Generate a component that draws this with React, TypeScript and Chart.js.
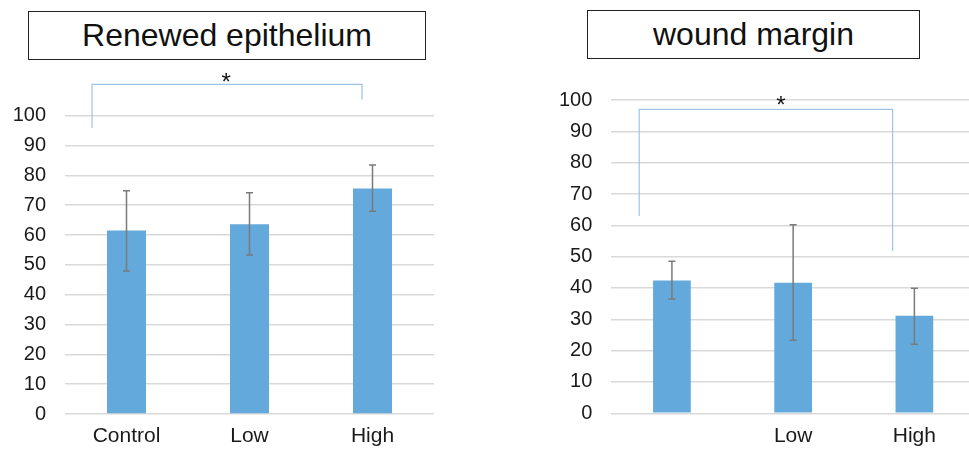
import React, { useEffect, useRef } from "react";
import { Chart, registerables } from "chart.js";

Chart.register(...registerables);

const FONT = "'Liberation Sans', Arial, Helvetica, sans-serif";

// ---- Data ----
const LEFT_TITLE = "Renewed epithelium";
const LEFT_CATEGORIES = ["Control", "Low", "High"];
const LEFT_MEANS = [61.5, 63.6, 75.6];
const LEFT_ERR_HIGH = [74.8, 74.2, 83.5];
const LEFT_ERR_LOW = [47.9, 53.3, 68.0];

const RIGHT_TITLE = "wound margin";
const RIGHT_CATEGORIES = ["", "Low", "High"];
const RIGHT_MEANS = [42.4, 41.7, 31.1];
const RIGHT_ERR_HIGH = [48.5, 60.2, 39.9];
const RIGHT_ERR_LOW = [36.5, 23.3, 22.0];

const Y_MIN = 0;
const Y_MAX = 100;
const Y_STEP = 10;

// significance brackets (category positions, values)
const LEFT_BRACKET = { from: -0.28, to: 1.915, y: 110.5, leftEnd: 95.9, rightEnd: 105.4, starX: 0.81, starY: 112.9 };
const RIGHT_BRACKET = { from: -0.27, to: 1.82, y: 97.0, leftEnd: 63.0, rightEnd: 51.8, starX: 0.9, starY: 99.7 };

type Bracket = typeof LEFT_BRACKET;

function makeOverlay(hi: number[], lo: number[], br: Bracket) {
  return {
    id: "overlay",
    afterDatasetsDraw(chart: any) {
      const ctx = chart.ctx;
      const meta = chart.getDatasetMeta(0);
      const ys = chart.scales.y;
      const xs = chart.scales.x;
      ctx.save();
      ctx.strokeStyle = "#7a7a7a";
      ctx.lineWidth = 1.5;
      meta.data.forEach((bar: any, i: number) => {
        const cx = bar.x;
        const yt = ys.getPixelForValue(hi[i]);
        const yb = ys.getPixelForValue(lo[i]);
        ctx.beginPath();
        ctx.moveTo(cx, yt);
        ctx.lineTo(cx, yb);
        ctx.moveTo(cx - 3.5, yt);
        ctx.lineTo(cx + 3.5, yt);
        ctx.moveTo(cx - 3.5, yb);
        ctx.lineTo(cx + 3.5, yb);
        ctx.stroke();
      });
      const x0 = xs.getPixelForValue(0);
      const step = xs.getPixelForValue(1) - x0;
      const bx1 = x0 + br.from * step;
      const bx2 = x0 + br.to * step;
      const by = ys.getPixelForValue(br.y);
      ctx.strokeStyle = "#9dc3e6";
      ctx.lineWidth = 1.2;
      ctx.beginPath();
      ctx.moveTo(bx1, ys.getPixelForValue(br.leftEnd));
      ctx.lineTo(bx1, by);
      ctx.lineTo(bx2, by);
      ctx.lineTo(bx2, ys.getPixelForValue(br.rightEnd));
      ctx.stroke();
      ctx.fillStyle = "#111";
      ctx.font = `24px ${FONT}`;
      ctx.textAlign = "center";
      ctx.textBaseline = "alphabetic";
      ctx.fillText("*", x0 + br.starX * step, ys.getPixelForValue(br.starY) + 12.5);
      ctx.restore();
    },
  };
}

interface PanelProps {
  categories: string[];
  means: number[];
  hi: number[];
  lo: number[];
  bracket: Bracket;
  width: number;
  height: number;
  yAxisWidth: number;
  xAxisHeight: number;
  padTop: number;
  padRight: number;
  barPct: number;
  style: React.CSSProperties;
}

function Panel(p: PanelProps) {
  const ref = useRef<HTMLCanvasElement>(null);
  useEffect(() => {
    if (!ref.current) return;
    const chart = new Chart(ref.current, {
      type: "bar",
      data: {
        labels: p.categories,
        datasets: [
          {
            data: p.means,
            backgroundColor: "#64a9db",
            borderWidth: 0,
            categoryPercentage: 1,
            barPercentage: p.barPct,
          },
        ],
      },
      options: {
        responsive: false,
        maintainAspectRatio: false,
        animation: false,
        layout: { padding: { top: p.padTop, right: p.padRight, left: 0, bottom: 0 } },
        plugins: { legend: { display: false }, tooltip: { enabled: false }, title: { display: false } },
        scales: {
          x: {
            grid: { display: false, drawTicks: false },
            border: { display: false },
            ticks: { color: "#1a1a1a", font: { family: FONT, size: 21 }, padding: 10, maxRotation: 0 },
            afterFit: (s: any) => {
              s.height = p.xAxisHeight;
            },
          },
          y: {
            min: Y_MIN,
            max: Y_MAX,
            grid: { color: "#d9d9d9", lineWidth: 1.5, drawTicks: false },
            border: { display: false },
            ticks: { stepSize: Y_STEP, color: "#1a1a1a", font: { family: FONT, size: 20 }, padding: 19 },
            afterFit: (s: any) => {
              s.width = p.yAxisWidth;
            },
          },
        },
      },
      plugins: [makeOverlay(p.hi, p.lo, p.bracket)],
    });
    return () => chart.destroy();
  }, []);
  return (
    <canvas
      ref={ref}
      width={p.width}
      height={p.height}
      style={{ position: "absolute", width: p.width, height: p.height, ...p.style }}
    />
  );
}

const titleStyle: React.CSSProperties = {
  position: "absolute",
  boxSizing: "border-box",
  border: "1.5px solid #222",
  display: "flex",
  alignItems: "center",
  justifyContent: "center",
  fontFamily: FONT,
  fontSize: 32,
  color: "#111",
  background: "#fff",
};

export default function App() {
  return (
    <div
      style={{
        position: "fixed",
        left: 0,
        top: 0,
        width: 969,
        height: 450,
        overflow: "hidden",
        background: "#fff",
      }}
    >
      <div style={{ ...titleStyle, left: 28, top: 11, width: 398, height: 49 }}>{LEFT_TITLE}</div>
      <div style={{ ...titleStyle, left: 587, top: 10, width: 333, height: 49 }}>{RIGHT_TITLE}</div>
      <Panel
        categories={LEFT_CATEGORIES}
        means={LEFT_MEANS}
        hi={LEFT_ERR_HIGH}
        lo={LEFT_ERR_LOW}
        bracket={LEFT_BRACKET}
        width={450}
        height={390}
        yAxisWidth={65}
        xAxisHeight={36}
        padTop={55.7}
        padRight={16}
        barPct={0.317}
        style={{ left: 0, top: 60 }}
      />
      <Panel
        categories={RIGHT_CATEGORIES}
        means={RIGHT_MEANS}
        hi={RIGHT_ERR_HIGH}
        lo={RIGHT_ERR_LOW}
        bracket={RIGHT_BRACKET}
        width={490}
        height={390}
        yAxisWidth={122.3}
        xAxisHeight={36.7}
        padTop={40}
        padRight={4}
        barPct={0.311}
        style={{ left: 489, top: 60 }}
      />
    </div>
  );
}
